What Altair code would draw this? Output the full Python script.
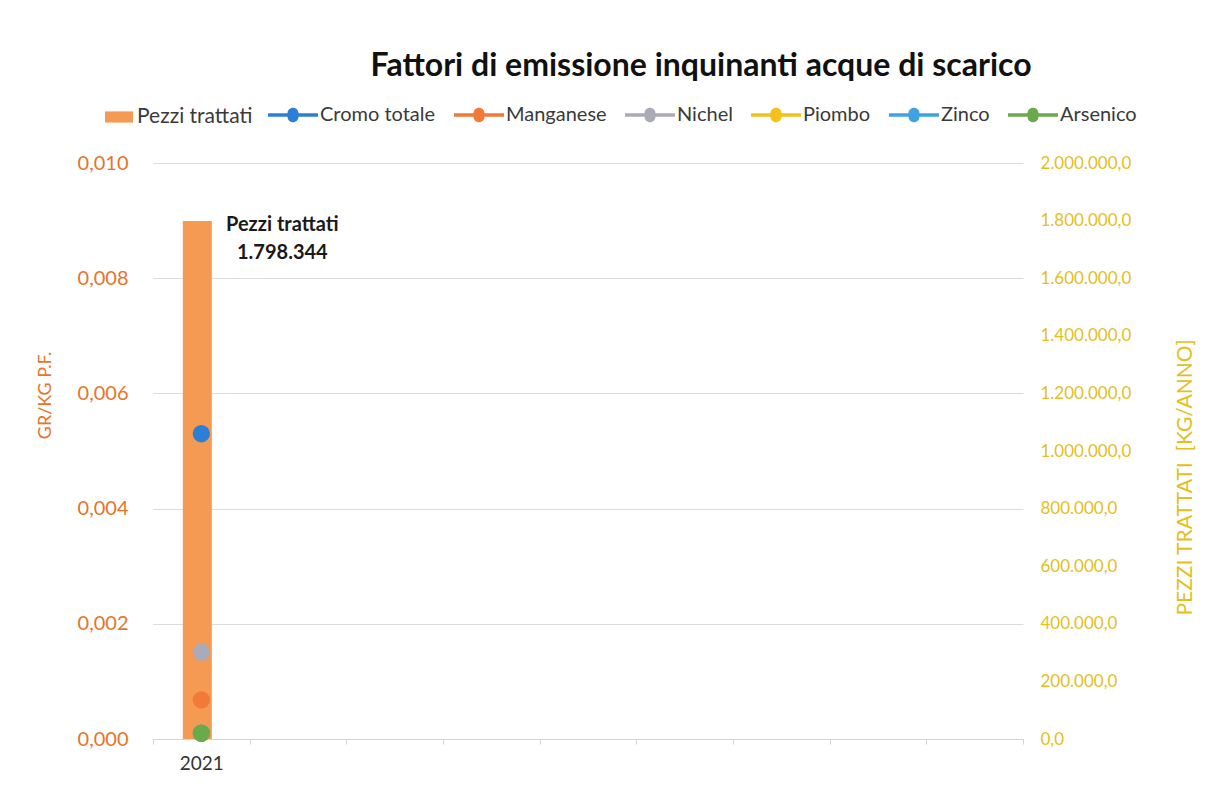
import altair as alt
import pandas as pd

# ---- data ----
anni = ["2021", " ", "  ", "   ", "    ", "     ", "      ", "       ", "        "]
anno_pezzi = ["2021"]
pezzi_trattati = [1798344]

serie_inquinanti = ["Cromo totale", "Manganese", "Nichel", "Piombo", "Zinco", "Arsenico"]
fattori_2021 = [0.00530, 0.00068, 0.00151, 0.00010, 0.00010, 0.00010]
colori_inquinanti = ["#2C7FD6", "#F07A36", "#ABABB8", "#F2C21B", "#3FA2E3", "#6AAA4A"]

serie_barre = ["Pezzi trattati"]
colore_barre = ["#F59A52"]

df_bar = pd.DataFrame({"anno": anno_pezzi, "pezzi": pezzi_trattati, "serie": serie_barre})
df_bar["etichetta"] = [
    s + "\n" + f"{v:,}".replace(",", ".") for s, v in zip(serie_barre, pezzi_trattati)
]
df_pts = pd.DataFrame({
    "anno": [anno_pezzi[0]] * len(serie_inquinanti),
    "serie": serie_inquinanti,
    "valore": fattori_2021,
})

FONT = "Lato"
ORANGE = "#E8742A"
YELLOW = "#E3C01C"

x_enc = alt.X(
    "anno:N",
    scale=alt.Scale(domain=anni, paddingInner=0, paddingOuter=0),
    sort=anni,
    axis=alt.Axis(
        title=None, labelAngle=0, labelFont=FONT, labelFontSize=19, labelColor="#333333",
        tickBand="extent", domainColor="#D4D4D4", tickColor="#D4D4D4", tickSize=5,
        labelPadding=10, grid=False,
    ),
)

y_right = alt.Y(
    "pezzi:Q",
    scale=alt.Scale(domain=[0, 2000000], nice=False),
    axis=alt.Axis(
        orient="right", format=",.1f", values=list(range(0, 2000001, 200000)),
        labelFont=FONT, labelFontSize=17, labelColor=YELLOW, ticks=False, domain=False,
        grid=False, labelPadding=17,
        title="PEZZI TRATTATI\u00a0\u00a0[KG/ANNO]", titleFont=FONT, titleFontSize=21,
        titleFontWeight="normal", titleColor=YELLOW, titleAngle=270,
        titleX=162, titleY=314, titleBaseline="middle", titleAlign="center",
    ),
)

bar = alt.Chart(df_bar).mark_bar(width=alt.RelativeBandSize(0.30), xOffset=-4).encode(
    x=x_enc,
    y=y_right,
    fill=alt.Fill(
        "serie:N",
        scale=alt.Scale(domain=serie_barre, range=colore_barre),
        legend=alt.Legend(
            title=None, orient="none", legendX=-48, legendY=-60, direction="horizontal",
            symbolType="M-1,-0.4L1,-0.4L1,0.4L-1,0.4Z", symbolSize=784,
            symbolStrokeWidth=0, labelFont=FONT, labelFontSize=21, labelColor="#3A3A3A",
            labelOffset=4,
        ),
    ),
)

txt = alt.Chart(df_bar).mark_text(
    font=FONT, fontWeight="bold", fontSize=20, color="#1A1A1A", align="center",
    baseline="top", dx=81, dy=-6, lineBreak="\n", lineHeight=28,
).encode(x=x_enc, y=y_right, text="etichetta:N")

pts = alt.Chart(df_pts).mark_circle(size=300, opacity=1).encode(
    x=x_enc,
    y=alt.Y(
        "valore:Q",
        scale=alt.Scale(domain=[0, 0.010], nice=False),
        axis=alt.Axis(
            orient="left", format=",.3f", values=[0, 0.002, 0.004, 0.006, 0.008, 0.010],
            labelFont=FONT, labelFontSize=20, labelColor=ORANGE, ticks=False, domain=False,
            grid=True, gridColor="#DCDCDC", labelPadding=25,
            title="GR/KG P.F.", titleFont=FONT, titleFontSize=18, titleFontWeight="normal",
            titleColor=ORANGE, titleAngle=270, titleX=-108, titleY=232,
            titleBaseline="middle", titleAlign="center",
        ),
    ),
    color=alt.Color(
        "serie:N",
        scale=alt.Scale(domain=serie_inquinanti, range=colori_inquinanti),
        legend=alt.Legend(
            title=None, orient="none", legendX=115, legendY=-73, direction="horizontal",
            symbolType="M-1,-0.07L-0.22,-0.07A0.22,0.22 0 0,1 0.22,-0.07L1,-0.07L1,0.07L0.22,0.07A0.22,0.22 0 0,1 -0.22,0.07L-1,0.07Z",
            symbolSize=2500, symbolStrokeWidth=0, labelFont=FONT, labelFontSize=20,
            labelColor="#3A3A3A", labelOffset=2, columnPadding=18,
        ),
    ),
)

chart = alt.layer(alt.layer(bar, txt), pts).resolve_scale(y="independent").properties(
    width=870,
    height=576,
    padding={"left": 145, "top": 155, "right": 175, "bottom": 43},
    autosize=alt.AutoSizeParams(type="none"),
    title=alt.TitleParams(
        "Fattori di emissione inquinanti acque di scarico", font=FONT, fontSize=32,
        fontWeight="bold", color="#111111", anchor="middle", frame="group", dx=113,
        offset=7,
    ),
    background="white",
).configure(
    locale={"number": {"decimal": ",", "thousands": ".", "grouping": [3], "currency": ["€", ""]}}
).configure_view(strokeWidth=0, stroke="transparent")

chart.save("out.html", embed_options={"renderer": "svg", "actions": False})
